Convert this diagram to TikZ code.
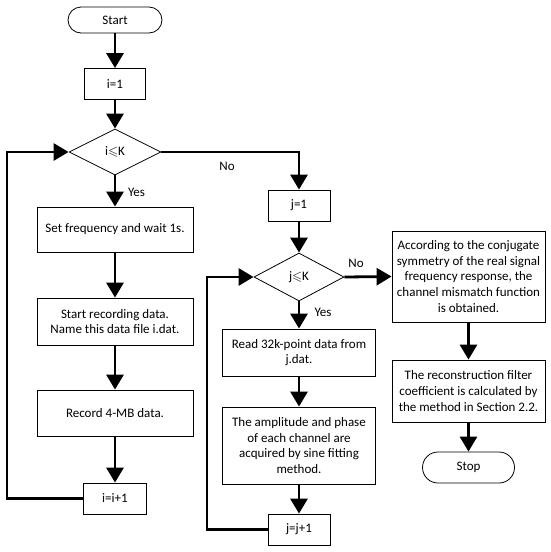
\documentclass[tikz,border=0pt]{standalone}
\usepackage{fontspec}
\setmainfont{Carlito}
\usepackage{amssymb}
\usetikzlibrary{shapes.geometric,arrows.meta}

\begin{document}
\begin{tikzpicture}[x=1pt,y=-1pt,
  font=\fontsize{13}{15.7}\selectfont,
  box/.style={draw,line width=0.8pt,align=center,inner sep=0pt},
  term/.style={box,rounded corners=13pt},
  decide/.style={draw,diamond,line width=0.8pt,inner sep=0pt},
  flow/.style={line width=2.8pt,-{Triangle[length=15pt,width=17pt]}}]
  \useasboundingbox (0,0) rectangle (550,552);

  % left column
  \node[term, minimum width=94pt, minimum height=26pt] (start) at (115,20) {Start};
  \node[box, minimum width=61pt, minimum height=31pt] (i1) at (115,84) {i=1};
  \node[decide, minimum width=92pt, minimum height=46pt] (dec1) at (115,152) {i$\leqslant$K};
  \node[box, minimum width=156pt, minimum height=45pt] (setf) at (115,229.5) {Set frequency and wait 1s.};
  \node[box, minimum width=156pt, minimum height=47pt] (recd) at (115,321.5) {Start recording data.\\Name this data file i.dat.};
  \node[box, minimum width=156pt, minimum height=46pt] (rec4) at (115,413) {Record 4-MB data.};
  \node[box, minimum width=63pt, minimum height=31pt] (inci) at (115,498.5) {i=i+1};

  % middle column
  \node[box, minimum width=62pt, minimum height=31pt] (j1) at (299,205.5) {j=1};
  \node[decide, minimum width=90pt, minimum height=48pt] (dec2) at (299,277) {j$\leqslant$K};
  \node[box, minimum width=153pt, minimum height=47pt] (read) at (299,352.5) {Read 32k-point data from\\j.dat.};
  \node[box, minimum width=153pt, minimum height=77pt] (amp) at (299,445.5) {The amplitude and phase\\of each channel are\\acquired by sine fitting\\method.};
  \node[box, minimum width=62pt, minimum height=31pt] (incj) at (299,529.5) {j=j+1};

  % right column
  \node[box, minimum width=153pt, minimum height=91pt] (conj) at (468.5,276.5) {According to the conjugate\\symmetry of the real signal\\frequency response, the\\channel mismatch function\\is obtained.};
  \node[box, minimum width=153pt, minimum height=62pt] (recon) at (468.5,391) {The reconstruction filter\\coefficient is calculated by\\the method in Section 2.2.};
  \node[box, rounded corners=15.5pt, minimum width=92pt, minimum height=31pt] (stop) at (468.5,467.5) {Stop};

  % labels
  \node (yes1) at (136.5,192) {Yes};
  \node (no1) at (227,166) {No};
  \node (yes2) at (323,312) {Yes};
  \node (no2) at (356,263) {No};

  \coordinate (loopi) at (7,498.5);
  \coordinate (loopj) at (207,529.5);

  \draw[flow] (start) -- (i1);
  \draw[flow] (i1) -- (dec1);
  \draw[flow] (dec1) -- (setf);
  \draw[flow] (setf) -- (recd);
  \draw[flow] (recd) -- (rec4);
  \draw[flow] (rec4) -- (inci);
  \draw[flow] (inci.west) -- (loopi) |- (dec1.west);
  \draw[flow] (dec1.east) -| (j1.north);

  \draw[flow] (j1) -- (dec2);
  \draw[flow] (dec2) -- (read);
  \draw[flow] (read) -- (amp);
  \draw[flow] (amp) -- (incj);
  \draw[flow] (incj.west) -- (loopj) |- (dec2.west);
  \draw[flow] (dec2.east) -- (conj.west);

  \draw[flow] (conj) -- (recon);
  \draw[flow] (recon) -- (stop);
\end{tikzpicture}
\end{document}
